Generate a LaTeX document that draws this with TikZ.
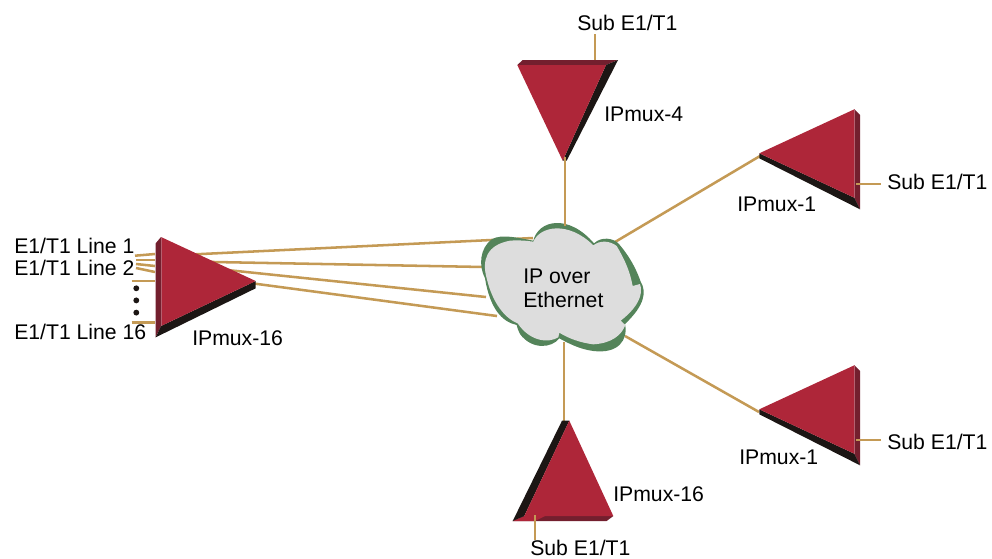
\documentclass[tikz,border=0pt]{standalone}
\usepackage{fontspec}
\setmainfont{Liberation Sans}
\definecolor{facered}{HTML}{AE2639}
\definecolor{sidered}{HTML}{731F2E}
\definecolor{edgepink}{HTML}{B5606F}
\definecolor{shadowblk}{HTML}{1C1614}
\definecolor{wire}{HTML}{C49A55}
\definecolor{cloudgreen}{HTML}{54845A}
\definecolor{cloudgrey}{HTML}{DDDDDD}
\tikzset{
  face/.style={fill=facered},
  sidepart/.style={fill=sidered},
  shadowpart/.style={fill=shadowblk},
  edgeline/.style={draw=edgepink,line width=0.5pt},
  wireline/.style={draw=wire,line width=1.9pt},
  lbl/.style={anchor=base west,inner sep=0pt,font=\fontsize{15.9}{18}\selectfont,text=black},
  blackdot/.style={circle,fill=shadowblk,inner sep=0pt,minimum size=4.4pt}
}
\begin{document}
\begin{tikzpicture}[x=0.75pt,y=-0.75pt]
\useasboundingbox (0,0) rectangle (992,558);
% connector ends
\coordinate (la) at (160,256);   \coordinate (ca) at (533,238);
\coordinate (lb) at (160,261);   \coordinate (cb) at (484,267);
\coordinate (lc) at (160,263);   \coordinate (cc) at (486,297);
\coordinate (ld) at (250,283);   \coordinate (cd) at (497,316);
\coordinate (tb) at (565,157);   \coordinate (ct) at (565,226);
\coordinate (ra) at (760,156);   \coordinate (cr) at (615,242);
\coordinate (rb) at (759,412);   \coordinate (cs) at (625,336);
\coordinate (ba) at (564,421);   \coordinate (cu) at (564,342);
\coordinate (ina) at (135,255.7); \coordinate (inb) at (155,254);
\coordinate (inc) at (136,260);   \coordinate (ind) at (155,260);
\coordinate (ine) at (136,264);   \coordinate (inf) at (155,266);
\coordinate (ing) at (136,268);   \coordinate (inh) at (155,272);
\coordinate (ini) at (131.7,281); \coordinate (inj) at (155,281);
\coordinate (ink) at (131.7,322.7); \coordinate (inl) at (155,322.7);
\coordinate (ta) at (595,34);    \coordinate (tc) at (595,60);
\coordinate (ua) at (856,184);   \coordinate (ub) at (881,184);
\coordinate (va) at (856,440);   \coordinate (vb) at (881,440);
\coordinate (wa) at (535,515);   \coordinate (wb) at (535,540);
% long connectors
\draw[wireline] (la) -- (ca);
\draw[wireline] (lb) -- (cb);
\draw[wireline] (lc) -- (cc);
\draw[wireline] (ld) -- (cd);
\draw[wireline] (ct) -- (tb);
\draw[wireline] (ra) -- (cr);
\draw[wireline] (rb) -- (cs);
\draw[wireline] (ba) -- (cu);
% cloud
\begin{scope}[shift={(470,210)},scale=1/3]
\fill[cloudgreen] (190,92)
  .. controls (205,30) and (295,10) .. (372,100)
  .. controls (395,78) and (430,85) .. (445,100)
  .. controls (480,140) and (500,180) .. (512,215)
  .. controls (530,245) and (525,285) .. (465,342)
  .. controls (475,390) and (445,432) .. (370,423)
  .. controls (330,418) and (295,400) .. (268,385)
  .. controls (245,415) and (185,420) .. (150,372)
  .. controls (145,362) and (142,355) .. (140,345)
  .. controls (95,335) and (60,295) .. (45,205)
  .. controls (25,165) and (30,115) .. (65,88)
  .. controls (95,70) and (150,85) .. (190,92) -- cycle;
\fill[cloudgrey] (190,95)
  .. controls (210,48) and (295,32) .. (370,106)
  .. controls (390,90) and (420,92) .. (440,108)
  .. controls (465,150) and (480,185) .. (488,228)
  -- (510,222)
  .. controls (522,255) and (500,295) .. (452,332)
  -- (466,345)
  .. controls (455,375) and (425,400) .. (370,403)
  .. controls (330,398) and (295,385) .. (268,368)
  -- (265,382)
  .. controls (235,400) and (180,395) .. (143,340)
  .. controls (105,325) and (68,280) .. (50,205)
  .. controls (35,150) and (50,105) .. (120,92)
  .. controls (145,90) and (170,92) .. (190,95) -- cycle;
\end{scope}
% left triangle
\fill[sidepart] (161,237) -- (155.7,243.3) -- (155.7,337.3) -- (161,326) -- cycle;
\fill[shadowpart] (161,326) -- (255.7,281) -- (255.7,288.3) -- (155.7,337.3) -- cycle;
\fill[face] (161,237) -- (255.7,281) -- (161,326) -- cycle;
\draw[edgeline] (161,237) -- (161,326);
% top triangle
\fill[sidepart] (517.3,65) -- (522.7,60) -- (618,60) -- (606,65) -- cycle;
\fill[shadowpart] (606,65) -- (618,60) -- (566.7,160.7) -- (562.7,160.7) -- cycle;
\fill[face] (517.3,65) -- (606,65) -- (562.7,160.7) -- cycle;
% bottom triangle
\fill[sidepart] (524.3,516) -- (613.3,516) -- (606.7,521) -- (512.7,521) -- cycle;
\fill[facered] (512.7,521) -- (524.3,516) -- (545,516) -- (535,521) -- cycle;
\fill[shadowpart] (562,420.7) -- (569.3,420.7) -- (524.3,516) -- (512.7,521) -- cycle;
\fill[face] (569.3,420.7) -- (613.3,516) -- (524.3,516) -- cycle;
% right upper triangle
\fill[sidepart] (854.3,109.3) -- (860,115) -- (860,209.3) -- (854.3,197.7) -- cycle;
\fill[shadowpart] (759.3,153.3) -- (854.3,197.7) -- (860,209.3) -- (759.3,158.3) -- cycle;
\fill[face] (759.3,153.3) -- (854.3,109.3) -- (854.3,197.7) -- cycle;
\draw[edgeline] (854.3,109.3) -- (854.3,197.7);
% right lower triangle
\fill[sidepart] (854.3,365.3) -- (860,371) -- (860,465.3) -- (854.3,453.7) -- cycle;
\fill[shadowpart] (759.3,409.3) -- (854.3,453.7) -- (860,465.3) -- (759.3,414.3) -- cycle;
\fill[face] (759.3,409.3) -- (854.3,365.3) -- (854.3,453.7) -- cycle;
\draw[edgeline] (854.3,365.3) -- (854.3,453.7);
% stubs
\draw[wireline] (tb) -- (ct);
\draw[wireline] (ina) -- (inb);
\draw[wireline] (inc) -- (ind);
\draw[wireline] (ine) -- (inf);
\draw[wireline] (ing) -- (inh);
\draw[wireline] (ini) -- (inj);
\draw[wireline] (ink) -- (inl);
\draw[wireline] (ta) -- (tc);
\draw[wireline] (ua) -- (ub);
\draw[wireline] (va) -- (vb);
\draw[wireline] (wa) -- (wb);
% dots
\node[blackdot] (d1) at (136.3,288.3) {};
\node[blackdot] (d2) at (136.3,300.4) {};
\node[blackdot] (d3) at (136.3,312.6) {};
% labels
\node[lbl] (s1) at (577,30) {Sub E1/T1};
\node[lbl] (s2) at (887,189) {Sub E1/T1};
\node[lbl] (s3) at (887,449) {Sub E1/T1};
\node[lbl] (s4) at (530,555) {Sub E1/T1};
\node[lbl] (m1) at (604,121) {IPmux-4};
\node[lbl] (m2) at (737,211) {IPmux-1};
\node[lbl] (m3) at (739,464) {IPmux-1};
\node[lbl] (m4) at (613,501) {IPmux-16};
\node[lbl] (m5) at (192,345) {IPmux-16};
\node[lbl] (e1) at (14,253) {E1/T1 Line 1};
\node[lbl] (e2) at (14,275) {E1/T1 Line 2};
\node[lbl] (e3) at (14,339) {E1/T1 Line 16};
\node[lbl] (c1) at (523,283) {IP over};
\node[lbl] (c2) at (523,307) {Ethernet};
\end{tikzpicture}
\end{document}
